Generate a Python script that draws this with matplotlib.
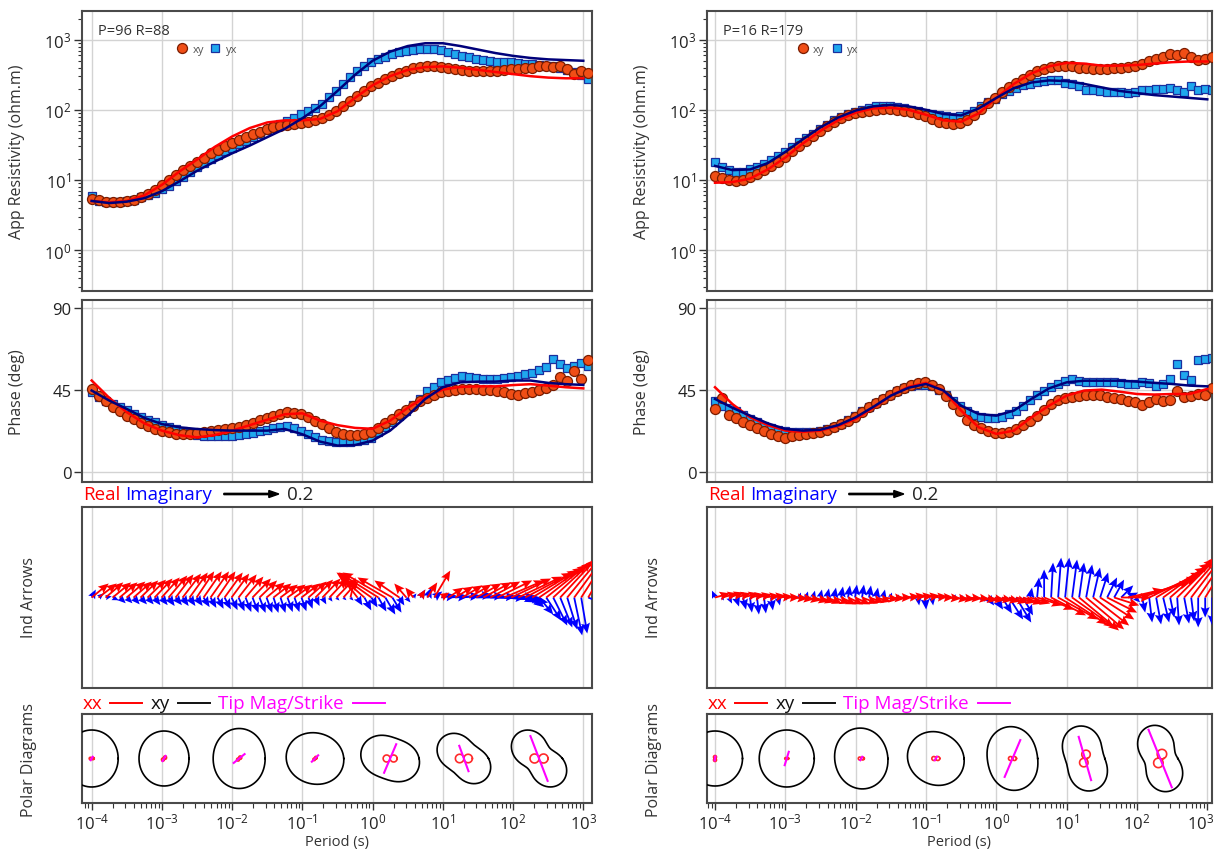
import numpy as np
import matplotlib
matplotlib.use("Agg")
import matplotlib.pyplot as plt
from matplotlib import transforms
from matplotlib.lines import Line2D
from matplotlib.patches import FancyArrow
from matplotlib.ticker import NullFormatter, FixedLocator, NullLocator, FuncFormatter

plt.rcParams['font.family'] = ['Open Sans', 'DejaVu Sans']
plt.rcParams['mathtext.fontset'] = 'custom'
plt.rcParams['mathtext.rm'] = 'Open Sans'
plt.rcParams['mathtext.it'] = 'Open Sans:italic'
plt.rcParams['mathtext.bf'] = 'Open Sans:bold'
plt.rcParams['axes.unicode_minus'] = True

W, H, DPI = 1215, 862, 100

# ---------------- data ----------------
period = 10 ** np.linspace(-4.0, 3.07, 72)          # sounding periods (s)
model_period = 10 ** np.arange(-4.0, 3.001, 0.25)   # model response periods (s)

# Station 1 (P=96 R=88) -- apparent resistivity as log10(ohm.m), phase in deg
L_rho_xy = [0.73,0.71,0.69,0.68,0.69,0.70,0.72,0.76,0.80,0.86,
            0.93,1.00,1.07,1.14,1.20,1.26,1.32,1.38,1.43,1.48,
            1.52,1.57,1.61,1.65,1.68,1.72,1.75,1.77,1.79,1.80,
            1.81,1.83,1.85,1.88,1.93,1.99,2.06,2.13,2.20,2.27,
            2.34,2.39,2.44,2.48,2.52,2.56,2.59,2.61,2.62,2.62,
            2.61,2.59,2.58,2.57,2.56,2.56,2.55,2.56,2.55,2.57,
            2.58,2.58,2.60,2.59,2.62,2.63,2.61,2.62,2.58,2.51,
            2.55,2.53]
L_rho_yx = [0.77,0.70,0.68,0.68,0.69,0.70,0.72,0.75,0.78,0.82,
            0.87,0.92,0.98,1.04,1.11,1.18,1.24,1.30,1.36,1.41,
            1.46,1.51,1.56,1.61,1.66,1.71,1.76,1.80,1.84,1.89,
            1.94,1.98,2.03,2.09,2.18,2.27,2.37,2.47,2.55,2.62,
            2.68,2.72,2.76,2.79,2.82,2.84,2.86,2.87,2.87,2.87,
            2.86,2.83,2.80,2.77,2.75,2.73,2.71,2.69,2.68,2.68,
            2.68,2.67,2.66,2.65,2.64,2.63,2.62,2.59,2.57,2.54,
            2.50,2.44]
L_ph_xy = [45.4,41.5,38.5,35.5,33.0,30.8,28.8,26.8,25.0,23.5,
           22.2,21.5,20.9,20.7,20.9,21.4,21.8,22.3,22.8,23.3,
           23.8,24.6,25.4,26.6,28.2,29.6,30.8,31.8,32.5,32.3,
           31.6,30.0,28.0,26.0,23.8,21.6,20.6,20.0,20.0,20.6,
           21.6,24.0,26.5,29.0,31.5,34.0,36.0,38.5,40.5,42.3,
           43.5,44.5,45.0,45.4,45.6,45.4,45.0,44.8,44.2,43.5,
           42.6,42.2,43.0,43.8,44.6,46.0,47.5,51.8,50.0,55.4,
           51.0,61.0]
L_ph_yx = [43.9,41.0,39.0,37.2,35.4,33.6,31.8,30.1,28.6,27.1,
           25.6,24.4,23.2,22.2,21.2,20.3,19.8,19.5,19.4,19.5,
           19.8,20.2,20.7,21.4,22.2,23.0,23.8,24.5,24.9,24.0,
           22.5,20.8,19.0,17.5,16.6,16.1,16.0,16.1,16.6,17.4,
           18.6,21.6,24.5,27.5,30.5,33.5,36.6,40.0,44.0,46.5,
           49.0,50.5,51.6,52.3,51.8,51.2,51.0,50.9,51.0,51.4,
           51.8,52.3,53.5,54.2,56.0,57.3,61.8,59.1,57.0,58.2,
           59.5,58.2]
L_mod_rho_xy = [0.70,0.68,0.70,0.78,0.93,1.12,1.29,1.47,1.62,1.74,1.82,1.85,1.85,1.87,1.98,
                2.17,2.35,2.48,2.57,2.61,2.62,2.60,2.57,2.54,2.51,2.48,2.46,2.45,2.45]
L_mod_rho_yx = [0.70,0.67,0.69,0.74,0.84,0.98,1.13,1.26,1.38,1.49,1.61,1.73,1.88,2.05,2.27,
                2.50,2.70,2.83,2.91,2.95,2.95,2.91,2.86,2.81,2.77,2.74,2.72,2.71,2.70]
L_mod_ph_xy = [50.0,40.5,32.6,26.5,22.5,20.0,18.8,20.0,22.5,25.5,28.5,31.5,32.0,28.0,25.5,
               24.0,23.5,28.0,35.0,41.0,45.0,46.5,46.8,46.8,47.5,48.0,47.2,46.3,45.7]
L_mod_ph_yx = [44.5,39.0,34.4,29.5,26.1,24.3,23.4,22.8,22.5,22.5,22.5,23.4,20.5,16.5,14.3,
               14.6,17.0,22.5,30.7,39.9,46.3,49.0,49.4,49.4,50.0,50.0,48.7,48.0,47.6]
# induction arrows (tipper components) station 1
L_re_x = [0.062,0.066,0.064,0.067,0.065,0.068,0.066,0.064,0.067,0.065,
          0.066,0.068,0.065,0.067,0.066,0.064,0.066,0.067,0.065,0.066,
          0.064,0.066,0.065,0.067,0.064,0.066,0.065,0.063,0.066,0.065,
          0.067,0.066,0.064,0.066,0.065,0.063,0.055,0.018,-0.055,-0.091,
          -0.127,-0.145,-0.156,-0.127,-0.091,-0.044,-0.029,0.018,0.036,0.058,
          0.029,0.055,0.065,0.073,0.080,0.091,0.102,0.109,0.127,0.145,
          0.145,0.160,0.170,0.165,0.160,0.150,0.140,0.130,0.120,0.110,
          0.100,0.090]
L_re_y = [0.051,0.051,0.055,0.055,0.055,0.058,0.058,0.062,0.065,0.069,
          0.073,0.080,0.084,0.087,0.091,0.095,0.095,0.095,0.095,0.091,
          0.087,0.084,0.076,0.069,0.062,0.055,0.051,0.047,0.047,0.047,
          0.051,0.058,0.065,0.069,0.069,0.065,0.062,0.073,0.073,0.080,
          0.091,0.091,0.091,0.073,0.062,0.051,0.036,0.029,0.055,0.098,
          0.018,0.036,0.040,0.044,0.047,0.051,0.055,0.058,0.062,0.062,
          0.069,0.076,0.090,0.100,0.110,0.120,0.130,0.140,0.145,0.150,
          0.155,0.155]
L_im_x = [0.015,0.018,0.022,0.022,0.022,0.021,0.022,0.023,0.022,0.021,
          0.022,0.022,0.023,0.022,0.021,0.022,0.022,0.021,0.022,0.023,
          0.022,0.022,0.021,0.022,0.022,0.021,0.018,0.018,0.019,0.018,
          0.018,0.015,0.015,0.014,0.011,0.011,0.011,0.011,0.018,0.025,
          0.022,0.029,0.036,0.033,0.018,0.015,0.011,0.018,0.015,0.029,
          0.055,0.073,0.091,0.109,0.127,0.145,0.155,0.164,0.164,0.145,
          0.127,0.109,0.036,0.044,0.051,0.055,0.051,0.044,0.036,0.029,
          0.022,0.073]
L_im_y = [0.029,0.015,0.004,-0.010,-0.021,-0.021,-0.025,-0.025,-0.025,-0.028,
          -0.028,-0.031,-0.028,-0.031,-0.031,-0.031,-0.035,-0.038,-0.041,-0.043,
          -0.046,-0.050,-0.053,-0.056,-0.056,-0.056,-0.056,-0.056,-0.053,-0.053,
          -0.050,-0.041,-0.031,-0.025,-0.015,-0.011,-0.010,-0.011,-0.029,-0.047,
          -0.036,-0.051,-0.062,-0.055,-0.029,-0.018,0.015,0.029,0.036,0.022,
          0.007,0.004,0.007,0.011,0.007,0.004,0.000,0.004,-0.007,-0.011,
          -0.015,-0.018,-0.018,-0.036,-0.062,-0.084,-0.102,-0.109,-0.116,-0.138,
          -0.131,-0.029]
# polar diagrams station 1 (sizes in pixels)
L_pol_logT = [-4.0, -2.97, -1.90, -0.82, 0.25, 1.30, 2.37]
L_xy_a = [26.5, 25.0, 26.0, 29.0, 30.0, 30.0, 33.0]
L_xy_b = [28.5, 27.5, 30.0, 25.5, 21.0, 17.0, 15.0]
L_xy_phi = [0, 0, 0, -15, -20, -40, -47]
L_xx_c = [2.5, 3.0, 3.0, 2.5, 7.0, 8.5, 9.0]
L_xx_phi = [0, 45, 45, 45, 0, 0, 0]
L_tip_len = [2, 3, 7, 4.5, 15.5, 13.5, 24]
L_tip_ang = [60, 60, 39, 45, 67, -70, -69]

# Station 2 (P=16 R=179)
R_rho_xy = [1.06,1.03,1.00,0.99,1.00,1.04,1.08,1.14,1.20,1.26,
            1.33,1.41,1.49,1.56,1.63,1.70,1.77,1.83,1.88,1.92,
            1.95,1.97,1.99,2.00,2.01,2.01,2.00,1.99,1.97,1.94,
            1.91,1.87,1.83,1.81,1.80,1.81,1.86,1.93,2.01,2.10,
            2.17,2.26,2.32,2.38,2.44,2.50,2.55,2.58,2.61,2.62,
            2.63,2.62,2.60,2.59,2.58,2.58,2.58,2.59,2.60,2.61,
            2.62,2.65,2.69,2.72,2.76,2.79,2.78,2.81,2.75,2.71,
            2.72,2.76]
R_rho_yx = [1.25,1.18,1.14,1.11,1.12,1.15,1.18,1.23,1.28,1.34,
            1.40,1.47,1.54,1.60,1.66,1.73,1.79,1.85,1.90,1.94,
            1.97,2.00,2.03,2.05,2.06,2.05,2.04,2.02,2.00,1.98,
            1.96,1.94,1.92,1.91,1.90,1.91,1.94,1.99,2.05,2.11,
            2.16,2.22,2.27,2.31,2.35,2.37,2.40,2.41,2.42,2.42,
            2.39,2.37,2.34,2.29,2.28,2.27,2.26,2.25,2.25,2.24,
            2.25,2.28,2.29,2.30,2.30,2.31,2.28,2.25,2.34,2.29,
            2.30,2.29]
R_ph_xy = [34.4,40.2,31.1,29.5,27.4,25.6,23.8,22.2,20.7,19.5,
           18.5,19.5,20.3,20.8,21.3,22.0,23.0,24.5,26.4,28.0,
           30.0,32.8,35.4,37.8,39.9,42.0,44.2,46.0,47.7,48.6,
           49.0,47.8,45.5,41.7,37.2,33.0,28.5,25.8,23.8,22.2,
           21.2,21.4,22.0,23.5,25.5,28.0,30.6,34.0,37.0,39.3,
           40.5,41.2,41.7,42.1,42.3,41.8,41.1,40.5,39.6,38.8,
           38.0,36.6,38.0,39.9,39.0,39.5,44.5,40.8,41.5,42.6,
           42.0,45.7]
R_ph_yx = [39.0,35.9,34.8,33.2,31.0,28.8,27.0,25.3,24.0,23.0,
           22.3,21.8,21.6,21.6,22.0,22.5,23.5,24.7,26.3,28.2,
           30.3,33.0,35.4,37.8,40.0,42.0,44.0,45.7,47.1,47.6,
           47.6,47.0,44.8,42.0,38.8,35.8,33.0,31.2,30.0,29.7,
           29.7,30.2,31.6,33.0,36.0,39.5,42.3,44.3,46.3,48.1,
           49.6,50.9,49.8,49.4,49.2,49.4,49.2,49.0,48.6,47.9,
           48.0,49.4,48.5,46.8,48.0,50.9,59.1,53.1,50.5,61.3,
           62.0,62.2]
R_mod_rho_xy = [0.96,0.97,1.02,1.15,1.32,1.52,1.70,1.85,1.96,2.02,2.03,2.00,1.93,1.85,1.83,
                1.95,2.17,2.37,2.52,2.62,2.67,2.66,2.63,2.63,2.64,2.66,2.68,2.69,2.69]
R_mod_rho_yx = [1.20,1.14,1.15,1.24,1.40,1.58,1.75,1.89,1.99,2.05,2.07,2.05,2.00,1.94,1.92,
                2.02,2.17,2.31,2.39,2.42,2.41,2.37,2.32,2.27,2.24,2.21,2.19,2.17,2.15]
R_mod_ph_xy = [46.3,37.0,29.8,25.5,22.5,21.8,22.5,25.0,28.9,35.0,41.7,46.5,48.7,44.5,33.5,
               24.3,20.7,22.5,29.8,36.2,41.7,44.5,45.0,43.9,42.6,42.3,42.6,42.6,45.4]
R_mod_ph_yx = [39.9,35.0,30.7,26.5,23.4,22.5,23.0,25.5,29.8,35.5,41.7,46.0,48.1,44.5,36.2,
               31.6,30.7,33.5,39.9,45.7,49.0,49.9,49.9,49.9,49.4,48.7,48.1,47.2,46.8]
R_re_x = [0.055,0.058,0.055,0.055,0.058,0.055,0.055,0.058,0.055,0.055,
          0.055,0.058,0.055,0.055,0.058,0.055,0.055,0.058,0.055,0.055,
          0.055,0.058,0.055,0.055,0.058,0.055,0.055,0.058,0.055,0.055,
          0.055,0.058,0.055,0.055,0.058,0.055,0.055,0.058,0.060,0.062,
          0.065,0.065,0.069,0.073,0.073,0.073,0.091,0.109,0.127,0.145,
          0.153,0.153,0.145,0.138,0.131,0.124,0.109,0.091,0.109,0.127,
          0.200,0.200,0.190,0.180,0.170,0.160,0.150,0.140,0.130,0.120,
          0.110,0.100]
R_re_y = [0.015,0.015,0.018,0.015,0.015,0.011,0.011,0.007,0.007,0.004,
          0.000,-0.004,-0.007,-0.011,-0.015,-0.018,-0.022,-0.022,-0.025,-0.025,
          -0.025,-0.022,-0.018,-0.015,-0.007,-0.004,0.000,0.004,0.007,0.007,
          0.007,0.004,0.000,-0.004,-0.007,-0.007,-0.004,-0.007,-0.011,-0.011,
          -0.011,-0.015,-0.018,-0.018,-0.022,-0.022,-0.029,-0.044,-0.065,-0.080,
          -0.098,-0.109,-0.120,-0.116,-0.102,-0.080,-0.055,-0.029,0.000,0.029,
          0.055,0.073,0.091,0.109,0.125,0.140,0.150,0.160,0.170,0.175,
          0.178,0.180]
R_im_x = [-0.011,0.007,0.011,0.011,0.011,0.007,0.007,0.007,0.007,0.007,
          0.007,0.007,0.007,0.007,0.007,0.007,0.007,0.007,0.007,0.007,
          0.007,0.007,0.007,0.007,0.007,0.007,0.007,0.007,0.007,0.004,
          0.004,0.004,0.007,0.011,0.011,0.011,0.011,0.011,0.015,0.022,
          0.029,0.036,0.051,0.055,0.036,0.007,0.007,0.000,0.007,0.011,
          0.015,0.018,0.018,0.022,0.025,0.029,0.036,0.036,0.044,0.036,
          0.018,0.011,0.011,0.018,0.022,0.015,0.007,0.018,0.011,0.000,
          0.000,0.000]
R_im_y = [0.025,-0.011,-0.022,-0.033,-0.044,-0.055,-0.062,-0.058,-0.047,-0.029,
          -0.011,0.007,0.018,0.022,0.025,0.029,0.033,0.036,0.040,0.044,
          0.047,0.047,0.044,0.036,0.029,0.018,0.011,0.004,-0.011,-0.029,
          -0.044,-0.029,-0.011,0.007,0.011,0.007,0.000,-0.007,-0.015,-0.029,
          -0.044,-0.058,-0.080,-0.091,-0.065,0.036,0.073,0.102,0.127,0.145,
          0.145,0.138,0.127,0.120,0.109,0.091,0.073,0.065,0.044,0.018,
          -0.018,-0.055,-0.091,-0.098,-0.091,-0.073,-0.102,-0.095,-0.087,-0.109,
          -0.073,-0.102]
R_pol_logT = [-4.0, -2.98, -1.92, -0.86, 0.23, 1.26, 2.33]
R_xy_a = [27.5, 27.5, 30.5, 29.0, 32.0, 33.0, 34.0]
R_xy_b = [27.5, 28.5, 26.5, 26.0, 25.0, 19.0, 16.0]
R_xy_phi = [0, 0, 100, -30, 100, 105, 108]
R_xx_c = [3.0, 2.0, 3.0, 4.0, 4.0, 8.5, 9.5]
R_xx_phi = [90, 0, 0, 0, 0, 75, 68]
R_tip_len = [2, 7, 2, 2, 20, 22.5, 31]
R_tip_ang = [80, 73, 60, 60, 67, -74, -68]

station_labels = ["P=96 R=88", "P=16 R=179"]
decade_ticks = [1e-4, 1e-3, 1e-2, 1e-1, 1e0, 1e1, 1e2, 1e3]
TIP_REF = 0.2          # reference arrow value
TIP_PX = 275.0         # pixels per unit tipper

# ---------------- styling ----------------
C_XY_FACE, C_XY_EDGE = '#f04e16', '#7a1c00'
C_YX_FACE, C_YX_EDGE = '#1fa8ee', '#1b2f9e'
C_MOD_XY, C_MOD_YX = '#ff0000', '#00007a'
SPINE = '#4a4a4a'
GRID = '#d3d3d3'
TXT = '#333333'

fig = plt.figure(figsize=(W / DPI, H / DPI), dpi=DPI)

def add_ax(x0, x1, top, bot):
    return fig.add_axes([x0 / W, 1 - bot / H, (x1 - x0) / W, (bot - top) / H])

def log_label(v, pos=None):
    return r'$10^{%d}$' % int(round(np.log10(v)))

def common(ax, xlim, bottom_labels=False, skip_last=False):
    ax.set_xscale('log')
    ax.set_xlim(*xlim)
    for sp in ax.spines.values():
        sp.set_color(SPINE)
        sp.set_linewidth(1.5)
    majors = [t for t in decade_ticks if xlim[0] <= t <= xlim[1]]
    minors = [s * 10.0 ** d for d in range(-5, 4) for s in range(2, 10)
              if xlim[0] <= s * 10.0 ** d <= xlim[1]]
    ax.xaxis.set_major_locator(FixedLocator(majors))
    ax.xaxis.set_minor_locator(FixedLocator(minors))
    ax.xaxis.set_minor_formatter(NullFormatter())
    if skip_last:
        ax.xaxis.set_major_formatter(FuncFormatter(lambda v, p: '' if v >= 999 else log_label(v)))
    else:
        ax.xaxis.set_major_formatter(FuncFormatter(log_label))
    ax.grid(True, which='major', axis='x', color=GRID, lw=1.0)
    ax.set_axisbelow(True)
    if bottom_labels:
        ax.tick_params(axis='x', which='major', direction='out', length=5, width=1,
                       color=TXT, labelsize=12, labelcolor='#222222', pad=2)
        ax.tick_params(axis='x', which='minor', direction='out', length=3.5, width=0.8, color=TXT)
    else:
        ax.tick_params(axis='x', which='both', length=0, labelbottom=False)

columns = [
    dict(x0=81.7, x1=591.7, xl=(-4.142, 3.12)),
    dict(x0=706.7, x1=1211.7, xl=(-4.118, 3.063)),
]
stations = [
    dict(rho_xy=L_rho_xy, rho_yx=L_rho_yx, ph_xy=L_ph_xy, ph_yx=L_ph_yx,
         m_rho_xy=L_mod_rho_xy, m_rho_yx=L_mod_rho_yx, m_ph_xy=L_mod_ph_xy, m_ph_yx=L_mod_ph_yx,
         re_x=L_re_x, re_y=L_re_y, im_x=L_im_x, im_y=L_im_y,
         pol_T=L_pol_logT, a=L_xy_a, b=L_xy_b, phi=L_xy_phi, xxc=L_xx_c, xxphi=L_xx_phi,
         tl=L_tip_len, ta=L_tip_ang),
    dict(rho_xy=R_rho_xy, rho_yx=R_rho_yx, ph_xy=R_ph_xy, ph_yx=R_ph_yx,
         m_rho_xy=R_mod_rho_xy, m_rho_yx=R_mod_rho_yx, m_ph_xy=R_mod_ph_xy, m_ph_yx=R_mod_ph_yx,
         re_x=R_re_x, re_y=R_re_y, im_x=R_im_x, im_y=R_im_y,
         pol_T=R_pol_logT, a=R_xy_a, b=R_xy_b, phi=R_xy_phi, xxc=R_xx_c, xxphi=R_xx_phi,
         tl=R_tip_len, ta=R_tip_ang),
]

renderer = fig.canvas.get_renderer()

def put_text(x, y, s, color, size=13.5):
    t = fig.text(x / W, 1 - y / H, s, color=color, fontsize=size, va='center', ha='left')
    bb = t.get_window_extent(renderer)
    return bb.x1

def hline_px(x1, x2, y, color, lw=1.4):
    fig.add_artist(Line2D([x1, x2], [H - y, H - y], transform=transforms.IdentityTransform(),
                          color=color, lw=lw))

theta = np.linspace(0, 2 * np.pi, 361)

for k, (col, st) in enumerate(zip(columns, stations)):
    x0, x1, xl = col['x0'], col['x1'], col['xl']
    xlim = (10 ** xl[0], 10 ** xl[1])
    n = len(period)
    fw = x1 - x0

    # ---- apparent resistivity ----
    ax = add_ax(x0, x1, 12, 291.7)
    common(ax, xlim)
    ax.set_yscale('log')
    ax.plot(period, 10 ** np.array(st['rho_yx']), 's', ms=6.3, mfc=C_YX_FACE, mec=C_YX_EDGE,
            mew=0.9, zorder=2)
    ax.plot(period, 10 ** np.array(st['rho_xy']), 'o', ms=7.2, mfc=C_XY_FACE, mec=C_XY_EDGE,
            mew=0.9, zorder=3)
    ax.plot(model_period, 10 ** np.array(st['m_rho_xy']), '-', color=C_MOD_XY, lw=1.8, zorder=4)
    ax.plot(model_period, 10 ** np.array(st['m_rho_yx']), '-', color=C_MOD_YX, lw=1.8, zorder=4)
    ax.set_xlim(*xlim)
    ax.set_ylim(10 ** -0.58, 10 ** 3.41)
    ax.yaxis.set_major_locator(FixedLocator([1e0, 1e1, 1e2, 1e3]))
    ax.yaxis.set_major_formatter(FuncFormatter(log_label))
    ax.yaxis.set_minor_locator(FixedLocator([s * 10.0 ** d for d in range(-1, 4) for s in range(2, 10)
                                             if 10 ** -0.58 <= s * 10.0 ** d <= 10 ** 3.41]))
    ax.yaxis.set_minor_formatter(NullFormatter())
    ax.grid(True, which='major', axis='y', color=GRID, lw=1.0)
    ax.tick_params(axis='y', which='major', direction='out', length=5.5, width=1, color=TXT,
                   labelsize=12, labelcolor='#222222', pad=2)
    ax.tick_params(axis='y', which='minor', direction='out', length=3.2, width=0.8, color=TXT)
    ax.text(16.5 / fw, 0.9285, station_labels[k], transform=ax.transAxes, fontsize=10.5,
            color=TXT, va='center')
    lx = [0.197, 0.262] if k == 0 else [0.190, 0.258]
    ax.plot([lx[0]], [0.868], 'o', ms=7.2, mfc=C_XY_FACE, mec=C_XY_EDGE, mew=0.9,
            transform=ax.transAxes, clip_on=False)
    ax.text(lx[0] + 0.02, 0.862, 'xy', transform=ax.transAxes, fontsize=8, color='#555555', va='center')
    ax.plot([lx[1]], [0.868], 's', ms=6.3, mfc=C_YX_FACE, mec=C_YX_EDGE, mew=0.9,
            transform=ax.transAxes, clip_on=False)
    ax.text(lx[1] + 0.02, 0.862, 'yx', transform=ax.transAxes, fontsize=8, color='#555555', va='center')

    # ---- phase ----
    ax = add_ax(x0, x1, 301, 483)
    common(ax, xlim)
    ax.plot(period, st['ph_yx'], 's', ms=6.3, mfc=C_YX_FACE, mec=C_YX_EDGE, mew=0.9, zorder=2)
    ax.plot(period, st['ph_xy'], 'o', ms=7.2, mfc=C_XY_FACE, mec=C_XY_EDGE, mew=0.9, zorder=3)
    ax.plot(model_period, st['m_ph_xy'], '-', color=C_MOD_XY, lw=1.8, zorder=4)
    ax.plot(model_period, st['m_ph_yx'], '-', color=C_MOD_YX, lw=1.8, zorder=4)
    ax.set_xlim(*xlim)
    ax.set_ylim(-5.7, 94.2)
    ax.yaxis.set_major_locator(FixedLocator([0, 45, 90]))
    ax.yaxis.set_minor_locator(NullLocator())
    ax.grid(True, which='major', axis='y', color=GRID, lw=1.0)
    ax.tick_params(axis='y', which='major', direction='out', length=5.5, width=1, color=TXT,
                   labelsize=12, labelcolor='#222222', pad=2)

    # ---- induction arrows ----
    ax = add_ax(x0, x1, 508, 689)
    common(ax, xlim)
    qkw = dict(angles='uv', scale_units='dots', scale=1.0 / TIP_PX, units='dots', width=1.8,
               headwidth=5.0, headlength=5.8, headaxislength=5.0, minlength=0.5)
    ax.quiver(period, np.zeros(n), st['im_x'], st['im_y'], color='#0000ff', zorder=3, **qkw)
    ax.quiver(period, np.zeros(n), st['re_x'], st['re_y'], color='#ff0000', zorder=4, **qkw)
    ax.set_xlim(*xlim)
    ax.set_ylim(-1, 1)
    ax.set_yticks([])

    # ---- polar diagrams ----
    ax = add_ax(x0, x1, 715, 804)
    common(ax, xlim, bottom_labels=True, skip_last=(k == 1))
    ax.set_ylim(-1, 1)
    ax.set_yticks([])
    for i in range(len(st['pol_T'])):
        trans = transforms.Affine2D() + transforms.ScaledTranslation(10 ** st['pol_T'][i], 0.0, ax.transData)
        ph = np.deg2rad(st['phi'][i])
        r = st['a'][i] * np.cos(theta - ph) ** 2 + st['b'][i] * np.sin(theta - ph) ** 2
        ax.add_line(Line2D(r * np.cos(theta), r * np.sin(theta), transform=trans,
                           color='black', lw=1.2, zorder=3))
        pxx = np.deg2rad(st['xxphi'][i])
        rx = st['xxc'][i] * np.abs(np.cos(theta - pxx))
        ax.add_line(Line2D(rx * np.cos(theta), rx * np.sin(theta), transform=trans,
                           color='#ff2a2a', lw=1.2, zorder=4))
        ta = np.deg2rad(st['ta'][i])
        L = st['tl'][i]
        ax.add_line(Line2D([-L * np.cos(ta), L * np.cos(ta)], [-L * np.sin(ta), L * np.sin(ta)],
                           transform=trans, color='#ff00ff', lw=1.5, zorder=5))
    ax.set_xlim(*xlim)
    ax.set_ylim(-1, 1)
    ax.set_xlabel('Period (s)', fontsize=10.5, color=TXT, labelpad=1)
    if k == 1:
        ax.annotate(log_label(1e3), xy=(1e3, 0), xycoords=('data', 'axes fraction'),
                    xytext=(-5, -7), textcoords='offset points', ha='center', va='top',
                    fontsize=12, color='#222222', annotation_clip=False)

    # ---- y labels ----
    off = x0 - 81.7
    for (xx, yy, s) in [(17, 152, 'App Resistivity (ohm.m)'), (17, 392, 'Phase (deg)'),
                        (29, 598, 'Ind Arrows'), (29, 760, 'Polar Diagrams')]:
        fig.text((xx + off) / W, 1 - yy / H, s, rotation=90, ha='center', va='center',
                 fontsize=11.5, color=TXT)

    # ---- legend above arrows ----
    ly = 495
    xe = put_text(x0 + 1, ly, 'Real', '#ff0000')
    xe = put_text(xe + 5, ly, 'Imaginary', '#0000ff')
    ax_start = xe + 12
    L_ref = TIP_REF * TIP_PX
    fig.add_artist(FancyArrow(ax_start, H - ly, L_ref, 0, width=1.3, head_width=7, head_length=10,
                              length_includes_head=True, color='black',
                              transform=transforms.IdentityTransform()))
    put_text(ax_start + L_ref + 8, ly, '0.2', '#222222')

    # ---- legend above polar ----
    py = 704
    xe = put_text(x0 + 1, py, 'xx', '#ff0000')
    hline_px(xe + 8, xe + 40, py, '#ff0000')
    xe = put_text(xe + 48, py, 'xy', '#111111')
    hline_px(xe + 8, xe + 40, py, '#111111')
    xe = put_text(xe + 48, py, 'Tip Mag/Strike', '#ff00ff')
    hline_px(xe + 10, xe + 42, py, '#ff00ff')

fig.savefig('out.png', dpi=DPI)
